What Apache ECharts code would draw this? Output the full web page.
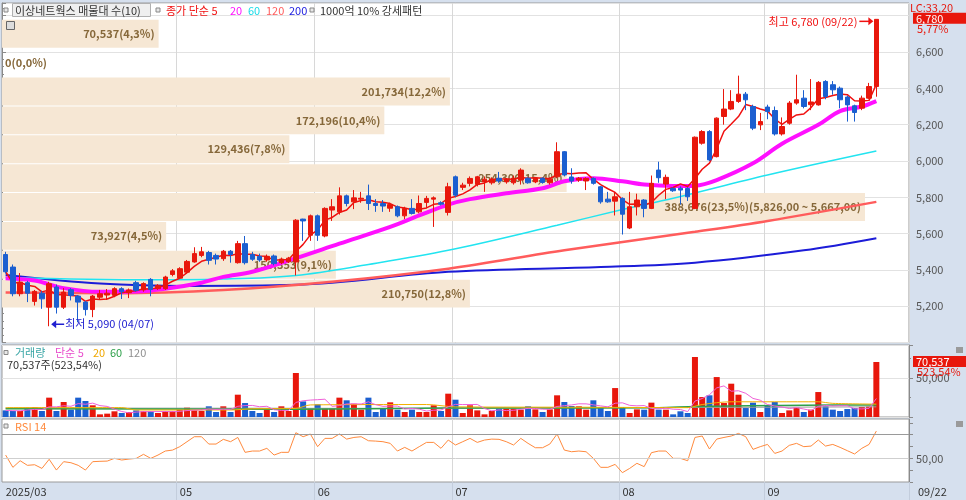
<!DOCTYPE html>
<html><head><meta charset="utf-8">
<script src="https://cdn.jsdelivr.net/npm/echarts@6/dist/echarts.min.js"></script>
<style>html,body{margin:0;padding:0;background:#d6e0ee}#c{width:966px;height:500px}</style>
</head><body><div id="c"></div>
<script>
// ---------------- DATA ----------------
const dates = ["2025/03/28","2025/03/31",
"2025/04/01","2025/04/02","2025/04/03","2025/04/04","2025/04/07","2025/04/08","2025/04/09","2025/04/10","2025/04/11","2025/04/14","2025/04/15","2025/04/16","2025/04/17","2025/04/18","2025/04/21","2025/04/22","2025/04/23","2025/04/24","2025/04/25","2025/04/28","2025/04/29","2025/04/30",
"2025/05/02","2025/05/07","2025/05/08","2025/05/09","2025/05/12","2025/05/13","2025/05/14","2025/05/15","2025/05/16","2025/05/19","2025/05/20","2025/05/21","2025/05/22","2025/05/23","2025/05/26","2025/05/27","2025/05/28","2025/05/29","2025/05/30",
"2025/06/02","2025/06/04","2025/06/05","2025/06/09","2025/06/10","2025/06/11","2025/06/12","2025/06/13","2025/06/16","2025/06/17","2025/06/18","2025/06/19","2025/06/20","2025/06/23","2025/06/24","2025/06/25","2025/06/26","2025/06/27","2025/06/30",
"2025/07/01","2025/07/02","2025/07/03","2025/07/04","2025/07/07","2025/07/08","2025/07/09","2025/07/10","2025/07/11","2025/07/14","2025/07/15","2025/07/16","2025/07/17","2025/07/18","2025/07/21","2025/07/22","2025/07/23","2025/07/24","2025/07/25","2025/07/28","2025/07/29","2025/07/30","2025/07/31",
"2025/08/01","2025/08/04","2025/08/05","2025/08/06","2025/08/07","2025/08/08","2025/08/11","2025/08/12","2025/08/13","2025/08/14","2025/08/18","2025/08/19","2025/08/20","2025/08/21","2025/08/22","2025/08/25","2025/08/26","2025/08/27","2025/08/28","2025/08/29",
"2025/09/01","2025/09/02","2025/09/03","2025/09/04","2025/09/05","2025/09/08","2025/09/09","2025/09/10","2025/09/11","2025/09/12","2025/09/15","2025/09/16","2025/09/17","2025/09/18","2025/09/19","2025/09/22"];

const opens = [5485,5416,5269,5330,5227,5272,5195,5306,5195,5291, 5256,5223,5182,5250,5262,5260,5297,5275,5330,5290,
5348,5297,5297,5375,5355,5388,5444,5480,5496,5480, 5462,5503,5440,5545,5485,5475,5455,5477,5440,5445,
5444,5680,5591,5698,5587,5730,5720,5808,5775,5790, 5808,5766,5766,5740,5748,5698,5739,5720,5772,5790,
5770,5717,5913,5855,5877,5871,5885,5880,5905,5885, 5880,5895,5905,5885,5905,5880,5913,6051,5912,5895,
5890,5904,5858,5790,5779,5794,5631,5748,5785,5739, 5950,5873,5849,5850,5849,5739,6098,6162,6024,6245,
6286,6328,6368,6300,6199,6297,6278,6149,6208,6319, 6346,6310,6309,6438,6420,6401,6352,6304,6291,6346,
6410];
const closes = [5390,5269,5333,5272,5282,5241,5324,5195,5278,5260, 5223,5182,5256,5269,5272,5297,5280,5290,5288,5325,
5293,5315,5361,5395,5407,5447,5490,5500,5453,5460, 5503,5485,5545,5440,5459,5455,5475,5435,5460,5465,
5674,5670,5698,5591,5739,5748,5808,5766,5797,5795, 5766,5755,5752,5760,5698,5739,5711,5766,5794,5797,
5762,5858,5812,5867,5904,5913,5900,5900,5890,5900, 5905,5950,5880,5905,5882,5900,6051,5923,5890,5905,
5904,5877,5775,5775,5803,5707,5748,5785,5739,5877, 5908,5910,5836,5840,5803,6131,6162,6006,6236,6286,
6328,6368,6337,6181,6217,6272,6149,6190,6319,6337, 6300,6325,6433,6355,6392,6337,6309,6267,6346,6410,
6780];
const lows = [5380,5255,5255,5223,5204,5186,5090,5160,5185,5232, 5112,5149,5140,5235,5235,5250,5240,5245,5280,5280,
5255,5290,5290,5365,5350,5380,5440,5470,5430,5430, 5450,5440,5435,5430,5450,5445,5445,5425,5432,5438,
5370,5560,5560,5560,5580,5670,5705,5750,5735,5770, 5730,5720,5720,5720,5690,5680,5705,5712,5740,5637,
5755,5700,5800,5840,5860,5860,5830,5870,5880,5875, 5870,5870,5875,5878,5875,5870,5905,5915,5875,5885,
5840,5870,5765,5770,5700,5595,5625,5700,5690,5735, 5880,5790,5830,5760,5780,5735,6090,6000,6020,6200,
6280,6320,6280,6170,6170,6230,6140,6140,6200,6310, 6290,6280,6305,6340,6365,6290,6217,6217,6280,6340,
6354];
const highs = [5500,5430,5383,5340,5290,5285,5335,5320,5300,5300, 5262,5230,5262,5290,5295,5305,5305,5298,5340,5332,
5355,5322,5368,5405,5415,5455,5525,5527,5505,5490, 5510,5510,5560,5587,5500,5490,5485,5485,5468,5472,
5680,5682,5705,5705,5745,5790,5855,5815,5840,5830, 5870,5790,5785,5770,5755,5748,5790,5810,5808,5805,
5778,5880,5920,5880,5915,5918,5915,5910,5940,5905, 5920,5960,5910,5912,5910,5908,6103,6055,5960,5912,
5910,5910,5862,5830,5830,5800,5830,5820,5790,5920, 5996,5925,5855,5860,5856,6135,6170,6170,6240,6396,
6390,6470,6380,6310,6265,6310,6300,6240,6330,6475, 6390,6451,6440,6445,6440,6410,6360,6310,6360,6430,
6780];
const vols = [8500,7700,7700,12000,12800,7700,24800,7700,19200,9400, 24800,20500,15000,3400,4300,7300,5100,6400,8500,7300,
7300,5100,7300,7300,9400,12000,8500,7700,13700,6400, 13700,6400,28600,17900,7700,5100,9400,6400,13700,7700,
56400,20000,10700,16200,10700,10700,24800,21400,17000,9400, 24800,6400,10700,18800,9400,6400,9400,6400,6400,15000,
7700,29900,22200,5100,15000,8500,3400,7700,10700,10700, 10700,9400,13700,9800,6400,9800,27800,19200,14100,13700,
9400,21400,12800,7700,37100,12000,5100,9800,9400,18400, 9400,9400,3400,7300,5100,76900,25600,27800,51200,17900,
42700,28600,11500,18400,6400,15000,19200,5100,8500,12000, 6400,9400,32000,13700,9400,7700,10200,11500,12800,13473,
70537];
const rsi = [52.8,42.4,48.0,44.1,44.6,41.5,49.2,40.1,47.2,46.3, 44.1,40.1,47.2,47.5,47.7,50.0,48.6,49.4,50.0,53.4,
50.0,52.8,56.2,57.0,59.9,64.1,68.3,68.3,62.1,62.1, 66.1,64.1,67.7,55.1,56.2,56.2,58.5,52.8,55.1,55.1,
71.7,68.3,70.6,59.9,66.9,66.9,70.6,66.3,67.7,68.3, 64.9,64.6,64.1,62.7,56.2,59.3,56.2,59.9,63.5,63.5,
58.5,65.5,61.3,64.1,66.9,63.5,65.5,66.3,66.1,64.1, 61.3,66.9,62.7,59.0,59.0,62.1,70.6,57.0,55.6,56.2,
55.6,50.0,42.4,42.4,44.9,37.9,41.5,45.8,43.0,54.8, 56.2,56.2,50.0,50.0,48.0,67.7,68.9,57.9,66.3,67.7,
68.9,71.1,68.3,57.6,59.9,61.8,54.2,56.2,61.0,62.7, 59.9,60.4,65.5,60.4,61.8,59.3,56.5,53.7,58.5,61.8,
73.1];

// moving averages: [candle index, value]
const ma20Pts = [[0,5355],[4,5342],[8,5300],[13,5280],[18,5282],[22,5297],[27,5330],[30,5362],[34,5390],[40,5465],[46,5545],[53,5637],[57,5700],[61,5760],[64,5790],[69,5822],[74,5850],[77,5888],[81,5905],[85,5888],[88,5870],[92,5862],[95,5864],[98,5895],[103,5987],[107,6095],[112,6199],[115,6275],[118,6300],[120,6330]];
const ma60Pts = [[0,5359],[20,5346],[30,5350],[40,5370],[50,5430],[61,5508],[76,5646],[85,5733],[92,5795],[105,5923],[120,6055]];
const ma120Pts = [[0,5276],[15,5272],[30,5290],[45,5335],[61,5407],[77,5508],[95,5610],[105,5670],[120,5775]];
const ma200Pts = [[0,5372],[13,5325],[25,5312],[40,5318],[61,5390],[82,5416],[95,5440],[110,5508],[120,5575]];
const volMa20Pts = [[0,12000],[16,12000],[18,9000],[31,9000],[34,10500],[40,11000],[42,15500],[58,16000],[62,13000],[80,12500],[94,12000],[96,16000],[100,19500],[112,19500],[114,17500],[120,16500]];
const volMa60Pts = [[0,10500],[40,10000],[60,11500],[90,12000],[95,13500],[110,15000],[120,15500]];
const volMa120Pts = [[0,11500],[60,11000],[120,13000]];

// volume profile (매물대) bands, top to bottom
const bandEdges = [6780,6621,6462,6303,6144,5985,5826,5667,5508,5349,5190];
const bandVols = [70537,0,201734,172196,129436,254306,388676,73927,150353,210750];
const bandPcts = [4.3,0.0,12.2,10.4,7.8,15.4,23.5,4.5,9.1,12.8];

// ---------------- HELPERS ----------------
const RED = '#e8170c', BLUE = '#1b5fd0';
const FONT = "'Noto Sans CJK KR','Noto Sans',sans-serif";
const N = dates.length;
const cats = dates.concat(['_a','_b','_c','_d']);
const fmt = v => Math.round(v).toLocaleString('en-US');
const dec = (v, d) => v.toFixed(d).replace('.', ',');
function sma(arr, n) {
  return arr.map((_, i) => { const s = Math.max(0, i - n + 1); let t = 0; for (let k = s; k <= i; k++) t += arr[k]; return +(t / (i - s + 1)).toFixed(1); });
}
const monthStarts = [];
{ let last = -99; for (let i = 0; i < N; i++) { const m = dates[i].slice(5, 7); if (i === 0 || m !== dates[i - 1].slice(5, 7)) { if (i - last >= 10) { monthStarts.push(i); last = i; } } } }
const isMonthLine = (idx) => idx > 0 && monthStarts.indexOf(idx) >= 0;
const maxBand = bandVols.indexOf(Math.max(...bandVols));

const chart = echarts.init(document.getElementById('c'));
const gridBase = { left: 2, right: 57, show: true, backgroundColor: '#fff', borderColor: '#9a9a9a', borderWidth: 1 };
const catAxis = (g, showLabel) => ({
  type: 'category', gridIndex: g, data: cats, boundaryGap: true,
  axisLine: { show: false },
  axisTick: showLabel ? { show: true, interval: isMonthLine, length: 18, lineStyle: { color: '#c3cddc' } } : { show: false },
  axisLabel: showLabel ? { show: true, interval: (idx) => monthStarts.indexOf(idx) >= 0, align: 'left', margin: 4, color: '#333', fontSize: 11, fontFamily: FONT,
    formatter: (v, idx) => idx === 0 ? v.slice(0, 7) : v.slice(5, 7) } : { show: false },
  splitLine: { show: true, interval: isMonthLine, lineStyle: { color: '#d8d8d8' } }
});
const rightAxisCommon = {
  position: 'right',
  axisLine: { show: true, lineStyle: { color: '#8a8a8a' } },
  axisTick: { show: true, length: 4, lineStyle: { color: '#8a8a8a' } },
  axisLabel: { color: '#555', fontSize: 11, margin: 7, fontFamily: FONT }
};
const maLine = (name, pts, color, width) => ({ type: 'line', name: name, xAxisIndex: 0, yAxisIndex: 0, data: pts, symbol: 'none', smooth: 0.35,
  lineStyle: { color: color, width: width }, z: 2, silent: true });

const option = {
  animation: false,
  backgroundColor: '#d6e0ee',
  textStyle: { fontFamily: FONT },
  grid: [
    Object.assign({ top: 3, height: 339.6 }, gridBase),
    Object.assign({ top: 345, height: 72 }, gridBase),
    Object.assign({ top: 419, height: 63 }, gridBase)
  ],
  xAxis: [
    catAxis(0, false),
    { type: 'value', gridIndex: 0, min: 0, max: 408500, show: false },
    catAxis(1, false),
    catAxis(2, true)
  ],
  yAxis: [
    Object.assign({}, rightAxisCommon, { type: 'value', gridIndex: 0, min: 5000, max: 6870, splitNumber: 9,
      minorTick: { show: true, splitNumber: 5, length: 2, lineStyle: { color: '#8a8a8a' } },
      axisLabel: Object.assign({}, rightAxisCommon.axisLabel, { showMinLabel: false, showMaxLabel: false, formatter: v => (v % 200 === 0 && v > 5000 && v < 6800) ? fmt(v) : '' }),
      splitLine: { lineStyle: { color: '#e2e2e2' } } }),
    Object.assign({}, rightAxisCommon, { type: 'value', gridIndex: 1, min: 0, max: 92300, interval: 50000,
      minorTick: { show: true, splitNumber: 2, length: 2, lineStyle: { color: '#8a8a8a' } },
      axisLabel: Object.assign({}, rightAxisCommon.axisLabel, { formatter: v => v === 50000 ? fmt(v) : '' }),
      splitLine: { lineStyle: { color: '#e2e2e2' } } }),
    Object.assign({}, rightAxisCommon, { type: 'value', gridIndex: 2, min: 30, max: 83.3, interval: 10,
      axisLabel: Object.assign({}, rightAxisCommon.axisLabel, { showMaxLabel: false, formatter: v => v === 50 ? dec(50, 2) : '' }),
      splitLine: { show: false } })
  ],
  series: [
    { type: 'custom', name: 'bands', xAxisIndex: 1, yAxisIndex: 0, z: 1, silent: true,
      data: bandVols.map((v, k) => [v, bandEdges[k + 1], bandEdges[k], k]),
      renderItem: (params, api) => {
        const vol = api.value(0), lo = api.value(1), hi = api.value(2), k = api.value(3);
        const p0 = api.coord([0, hi]), p1 = api.coord([vol, lo]);
        const y0 = p0[1] + 0.5, h = p1[1] - p0[1] - 1;
        let txt = fmt(bandVols[k]) + '(' + dec(bandPcts[k], 1) + '%)';
        if (k === maxBand) txt += '(' + fmt(bandEdges[k]) + ',00 ~ ' + fmt(bandEdges[k + 1]) + ',00)';
        const ch = [];
        if (vol > 0) ch.push({ type: 'rect', shape: { x: p0[0], y: y0, width: p1[0] - p0[0], height: h }, style: { fill: '#f6e7d4' } });
        ch.push({ type: 'text', style: { text: txt, x: vol > 0 ? p1[0] - 4 : p0[0] + 3, y: y0 + h / 2, align: vol > 0 ? 'right' : 'left', verticalAlign: 'middle',
          fill: '#86683a', font: "bold 11px " + FONT } });
        return { type: 'group', children: ch };
      } },
    maLine('MA200', ma200Pts, '#1c1cd8', 2),
    maLine('MA120', ma120Pts, '#ff5c5c', 2.5),
    maLine('MA60', ma60Pts, '#22e4f0', 1.5),
    maLine('MA20', ma20Pts, '#ff10ff', 4),
    { type: 'line', name: 'MA5', xAxisIndex: 0, yAxisIndex: 0, data: sma(closes, 5), symbol: 'none', lineStyle: { color: '#f01010', width: 1.5 }, z: 3, silent: true },
    { type: 'candlestick', name: 'price', xAxisIndex: 0, yAxisIndex: 0, z: 5, barWidth: 5,
      data: opens.map((o, i) => [o, closes[i], lows[i], highs[i]]),
      itemStyle: { color: RED, color0: BLUE, borderColor: RED, borderColor0: BLUE, borderWidth: 1 } },
    { type: 'bar', name: 'vol', xAxisIndex: 2, yAxisIndex: 1, barWidth: 6, z: 2,
      data: vols.map((v, i) => ({ value: v, itemStyle: { color: closes[i] >= opens[i] ? RED : BLUE } })) },
    { type: 'line', xAxisIndex: 2, yAxisIndex: 1, data: volMa120Pts, symbol: 'none', lineStyle: { color: '#9a9a9a', width: 1 }, z: 3, silent: true },
    { type: 'line', xAxisIndex: 2, yAxisIndex: 1, data: volMa60Pts, symbol: 'none', smooth: 0.3, lineStyle: { color: '#2ea04a', width: 1.5 }, z: 3, silent: true },
    { type: 'line', xAxisIndex: 2, yAxisIndex: 1, data: volMa20Pts, symbol: 'none', smooth: 0.3, lineStyle: { color: '#f2b000', width: 1 }, z: 3, silent: true },
    { type: 'line', xAxisIndex: 2, yAxisIndex: 1, data: sma(vols, 5), symbol: 'none', lineStyle: { color: '#f060d8', width: 1 }, z: 4, silent: true },
    { type: 'line', name: 'RSI', xAxisIndex: 3, yAxisIndex: 2, data: rsi, symbol: 'none', lineStyle: { color: '#ff8a3d', width: 1 }, z: 3, silent: true,
      markLine: { silent: true, symbol: 'none', label: { show: false },
        data: [{ yAxis: 70, lineStyle: { color: '#9a9a9a', type: 'solid', width: 1.2 } }, { yAxis: 50, lineStyle: { color: '#cfcfcf', type: 'solid', width: 1 } }] } }
  ]
};
chart.setOption(option);

// ---------------- ANNOTATIONS ----------------
const T = (text, x, y, fill, extra) => Object.assign({ type: 'text', x: x, y: y, z: 100,
  style: { text: text, fill: fill, font: '11px ' + FONT, align: 'left', verticalAlign: 'middle', textAlign: 'left', textVerticalAlign: 'middle' } }, extra || {});
const sq = (x, y) => ({ type: 'rect', z: 100, shape: { x: x, y: y, width: 4, height: 4 }, style: { fill: '#e8e8e8', stroke: '#888', lineWidth: 1 } });

let hiIdx = 0, loIdx = 0;
for (let i = 0; i < N; i++) { if (highs[i] > highs[hiIdx]) hiIdx = i; if (lows[i] < lows[loIdx]) loIdx = i; }
const pHi = chart.convertToPixel({ xAxisIndex: 0, yAxisIndex: 0 }, [hiIdx, highs[hiIdx]]);
const pLo = chart.convertToPixel({ xAxisIndex: 0, yAxisIndex: 0 }, [loIdx, lows[loIdx]]);
const pLast = chart.convertToPixel({ xAxisIndex: 0, yAxisIndex: 0 }, [N - 1, closes[N - 1]]);
const pVol = chart.convertToPixel({ xAxisIndex: 2, yAxisIndex: 1 }, [N - 1, vols[N - 1]]);
const chg = (closes[N - 1] / closes[N - 2] - 1) * 100;
const vChg = vols[N - 1] / vols[N - 2] * 100;

const g = [];
// top legend
g.push(sq(4, 8));
g.push({ type: 'rect', z: 99, shape: { x: 12.5, y: 3.5, width: 138, height: 13 }, style: { fill: '#efefef', stroke: '#b0b0b0', lineWidth: 1 } });
g.push(T('이상네트웍스 매물대 수(10)', 15, 10.5, '#333'));
g.push(sq(156, 8));
g.push(T('종가 단순 5', 166, 10.5, '#f01010'));
g.push(T('20', 230, 10.5, '#ff10ff'));
g.push(T('60', 248, 10.5, '#18dce8'));
g.push(T('120', 266, 10.5, '#ff5c5c'));
g.push(T('200', 289, 10.5, '#2020e0'));
g.push(sq(310, 8));
g.push(T('1000억 10% 강세패턴', 320, 10.5, '#333'));
g.push({ type: 'rect', z: 100, shape: { x: 6.5, y: 21.5, width: 8, height: 8 }, style: { fill: '#dcdcdc', stroke: '#666', lineWidth: 1 } });
// hi / lo annotations
const hiLabel = T('최고 ' + fmt(highs[hiIdx]) + ' (' + dates[hiIdx].slice(5) + ')', pHi[0] - 19, pHi[1] + 2, '#f01010');
hiLabel.style.align = 'right'; hiLabel.style.textAlign = 'right';
g.push(hiLabel);
g.push({ type: 'line', z: 100, shape: { x1: pHi[0] - 17, y1: pHi[1] + 2, x2: pHi[0] - 7, y2: pHi[1] + 2 }, style: { stroke: '#f01010', lineWidth: 1.5 } });
g.push({ type: 'polygon', z: 100, shape: { points: [[pHi[0] - 8, pHi[1] - 2], [pHi[0] - 3, pHi[1] + 2], [pHi[0] - 8, pHi[1] + 6]] }, style: { fill: '#f01010' } });
g.push({ type: 'polygon', z: 100, shape: { points: [[pLo[0] + 2, pLo[1] - 2], [pLo[0] + 7, pLo[1] - 6], [pLo[0] + 7, pLo[1] + 2]] }, style: { fill: '#2020d0' } });
g.push({ type: 'line', z: 100, shape: { x1: pLo[0] + 6, y1: pLo[1] - 2, x2: pLo[0] + 15, y2: pLo[1] - 2 }, style: { stroke: '#2020d0', lineWidth: 1.5 } });
g.push(T('최저 ' + fmt(lows[loIdx]) + ' (' + dates[loIdx].slice(5) + ')', pLo[0] + 16, pLo[1] - 2, '#2020d0'));
// right side price labels
g.push(T('LC:' + dec(33.2, 2), 910, 8, '#e8170c'));
g.push({ type: 'rect', z: 101, shape: { x: 913, y: pLast[1] - 6.5, width: 53, height: 11 }, style: { fill: '#e8170c' } });
g.push(T(fmt(closes[N - 1]), 916, pLast[1] - 1, '#fff', { z: 102 }));
g.push(T(dec(chg, 2) + '%', 917, pLast[1] + 9.5, '#e8170c'));
// volume legend + right labels
g.push(sq(4, 350.5));
g.push(T('거래량', 15, 352.5, '#3aa6a6'));
g.push(T('단순 5', 55, 352.5, '#e84ccc'));
g.push(T('20', 93, 352.5, '#f0a800'));
g.push(T('60', 110, 352.5, '#2ea04a'));
g.push(T('120', 128, 352.5, '#909090'));
g.push(T(fmt(vols[N - 1]) + '주(' + dec(vChg, 2) + '%)', 7, 364.5, '#333'));
g.push({ type: 'rect', z: 101, shape: { x: 913, y: pVol[1] - 6, width: 53, height: 11 }, style: { fill: '#e8170c' } });
g.push(T(fmt(vols[N - 1]), 916, pVol[1] - 0.5, '#fff', { z: 102 }));
g.push(T(dec(vChg, 2) + '%', 917, pVol[1] + 9.5, '#e8170c', { z: 102 }));
g.push({ type: 'rect', z: 100, shape: { x: 956, y: 347, width: 7, height: 6 }, style: { fill: '#9a9a9a' } });
// RSI legend
g.push(sq(4, 424));
g.push(T('RSI 14', 15, 426.5, '#ff8a3d'));
g.push({ type: 'rect', z: 100, shape: { x: 956, y: 421, width: 7, height: 6 }, style: { fill: '#9a9a9a' } });
// last date on the right strip
g.push(T(dates[N - 1].slice(5), 918, 491.5, '#333'));

chart.setOption({ graphic: g });
</script>
</body></html>
